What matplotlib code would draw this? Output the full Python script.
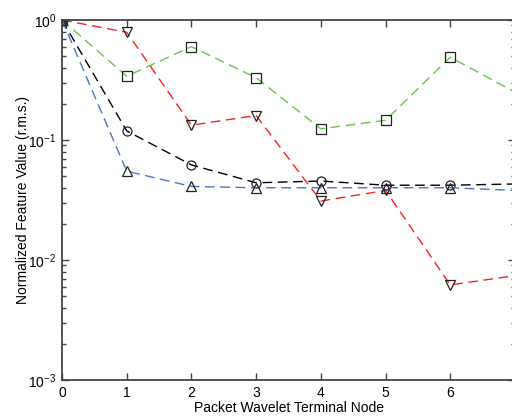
import numpy as np
import matplotlib
matplotlib.use('Agg')
from matplotlib import pyplot as plt

plt.rcParams.update({'font.size': 10, 'font.family': 'Liberation Sans'})
plt.rcParams['mathtext.fontset'] = 'custom'
plt.rcParams['mathtext.rm'] = 'Liberation Sans'
plt.rcParams['mathtext.it'] = 'Liberation Sans'

# terminal nodes and normalized feature values
nodes = [0, 1, 2, 3, 4, 5, 6, 7]
circle_vals = [1.0, 0.119, 0.062, 0.044, 0.0455, 0.042, 0.042, 0.043]
triangle_vals = [1.0, 0.055, 0.041, 0.040, 0.040, 0.040, 0.040, 0.038]
down_vals = [1.0, 0.79, 0.133, 0.16, 0.031, 0.038, 0.0062, 0.0074]
square_vals = [1.0, 0.34, 0.60, 0.33, 0.124, 0.146, 0.49, 0.25]

fig = plt.figure(figsize=(5.12, 4.19), dpi=100)
W, H = 512, 419
# the axes run just past the right edge, as in the cropped original
ax = fig.add_axes([62 / W, (H - 380) / H, (515 - 62) / W, 360 / H])

# markers on the last node fall outside the cropped picture
style = dict(linewidth=1.0, markersize=6.5, markerfacecolor='none',
             markeredgecolor='#222222', markeredgewidth=0.9, dashes=(7, 4),
             markevery=slice(0, len(nodes) - 1))
ax.plot(nodes, square_vals, color='#6cc44c', marker='s', **style)
ax.plot(nodes, down_vals, color='#ff2020', marker='v', **style)
ax.plot(nodes, circle_vals, color='black', marker='o', **style)
ax.plot(nodes, triangle_vals, color='#5075c8', marker='^', **style)

ax.set_yscale('log')
ax.set_ylim(1e-3, 1)
ax.set_xlim(0, 7)
ax.set_xticks(range(0, 7))

ax.tick_params(which='both', direction='in', top=True, right=True,
               color='#444444', width=1.0)
ax.tick_params(which='major', length=5, pad=4)
ax.tick_params(which='minor', length=3)
for s in ax.spines.values():
    s.set_color('#444444')
    s.set_linewidth(1.3)

ax.set_xlabel('Packet Wavelet Terminal Node', labelpad=1)
ax.set_ylabel('Normalized Feature Value (r.m.s.)', labelpad=-1)

fig.savefig('out.png', dpi=100)
